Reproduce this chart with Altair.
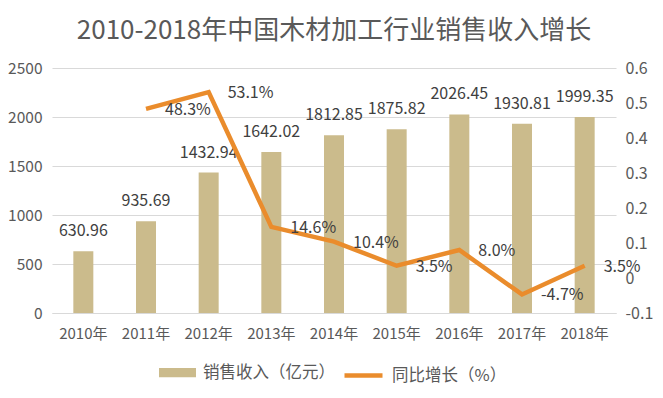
import altair as alt
import pandas as pd

years = ["2010年", "2011年", "2012年", "2013年", "2014年", "2015年", "2016年", "2017年", "2018年"]
revenue = [630.96, 935.69, 1432.94, 1642.02, 1812.85, 1875.82, 2026.45, 1930.81, 1999.35]
revenue_labels = ["630.96", "935.69", "1432.94", "1642.02", "1812.85", "1875.82", "2026.45", "1930.81", "1999.35"]
growth_years = ["2011年", "2012年", "2013年", "2014年", "2015年", "2016年", "2017年", "2018年"]
growth = [0.483, 0.531, 0.146, 0.104, 0.035, 0.080, -0.047, 0.035]
growth_labels = ["48.3%", "53.1%", "14.6%", "10.4%", "3.5%", "8.0%", "-4.7%", "3.5%"]
left_ticks = [0, 500, 1000, 1500, 2000, 2500]
right_ticks = [-0.1, 0, 0.1, 0.2, 0.3, 0.4, 0.5, 0.6]

title_text = "2010-2018年中国木材加工行业销售收入增长"
bar_name = "销售收入（亿元）"
line_name = "同比增长（%）"

FONT = "Noto Sans CJK SC"
BAR_COLOR = "#cbbb8c"
LINE_COLOR = "#ea8c2c"
TEXT_COLOR = "#595959"
LABEL_COLOR = "#404040"

bars_df = pd.DataFrame({"year": years, "revenue": revenue, "label": revenue_labels,
                        "series": [bar_name] * len(years)})
line_df = pd.DataFrame({"year": growth_years, "growth": growth, "label": growth_labels,
                        "series": [line_name] * len(growth_years)})

x_enc = alt.X(
    "year:N",
    sort=years,
    scale=alt.Scale(domain=years, paddingInner=0.5, paddingOuter=0.25),
    axis=alt.Axis(
        title=None, labelAngle=0, ticks=False, domain=True, domainColor="#d9d9d9",
        labelFont=FONT, labelFontSize=15, labelColor=TEXT_COLOR, labelPadding=13,
    ),
)

y_left = alt.Y(
    "revenue:Q",
    scale=alt.Scale(domain=[0, 2500], nice=False, zero=True),
    axis=alt.Axis(
        title=None, values=left_ticks, ticks=False, domain=False, grid=True, format="d",
        gridColor="#d9d9d9", labelFont=FONT, labelFontSize=15.5, labelColor=TEXT_COLOR,
        labelPadding=10, labelOverlap=False,
    ),
)

y_right = alt.Y(
    "growth:Q",
    scale=alt.Scale(domain=[-0.1, 0.6], nice=False, zero=False),
    axis=alt.Axis(
        title=None, orient="right", values=right_ticks, tickCount=8, ticks=False,
        domain=False, grid=False,
        labelFont=FONT, labelFontSize=16, labelColor=TEXT_COLOR, labelPadding=9,
        labelExpr="datum.value == 0 ? '0' : ('' + datum.value)", labelOverlap=False,
        labelSeparation=0,
    ),
)

bars = alt.Chart(bars_df).mark_bar(size=20).encode(
    x=x_enc,
    y=y_left,
    fill=alt.Fill(
        "series:N",
        scale=alt.Scale(domain=[bar_name], range=[BAR_COLOR]),
        legend=alt.Legend(
            title=None, orient="none", legendX=107, legendY=286, padding=0,
            labelFont=FONT, labelFontSize=16.5, labelColor=TEXT_COLOR, labelOffset=7,
            symbolType="M-1,-0.25H1V0.25H-1Z", symbolSize=1369, symbolStrokeWidth=0,
        ),
    ),
)

bar_text = alt.Chart(bars_df).mark_text(
    font=FONT, fontSize=16, color=LABEL_COLOR, baseline="middle", align="center", dy=-20
).encode(x=x_enc, y=y_left, text="label:N")

line = alt.Chart(line_df).mark_line(strokeWidth=4.5, strokeJoin="miter").encode(
    x=x_enc,
    y=y_right,
    stroke=alt.Stroke(
        "series:N",
        scale=alt.Scale(domain=[line_name], range=[LINE_COLOR]),
        legend=alt.Legend(
            title=None, orient="none", legendX=290, legendY=286, padding=0,
            labelFont=FONT, labelFontSize=16.5, labelColor=TEXT_COLOR, labelOffset=7,
            symbolType="stroke", symbolSize=1444, symbolStrokeWidth=4.5,
        ),
    ),
)

line_text = alt.Chart(line_df).mark_text(
    font=FONT, fontSize=16, color=LABEL_COLOR, baseline="middle", align="left", dx=19, dy=1
).encode(x=x_enc, y=y_right, text="label:N")

chart = (
    alt.layer(alt.layer(bars, bar_text), alt.layer(line, line_text))
    .resolve_scale(y="independent", fill="independent", stroke="independent")
    .properties(
        width=564,
        height=245,
        padding={"left": 44, "top": 60, "right": 39, "bottom": 77},
        autosize=alt.AutoSizeParams(type="none"),
        background="white",
        title=alt.Title(
            title_text, font=FONT, fontSize=26, fontWeight="normal", color=TEXT_COLOR,
            anchor="middle", offset=16,
        ),
    )
    .configure_view(stroke=None)
)

chart.save("out.html", embed_options={"renderer": "svg", "actions": False})
